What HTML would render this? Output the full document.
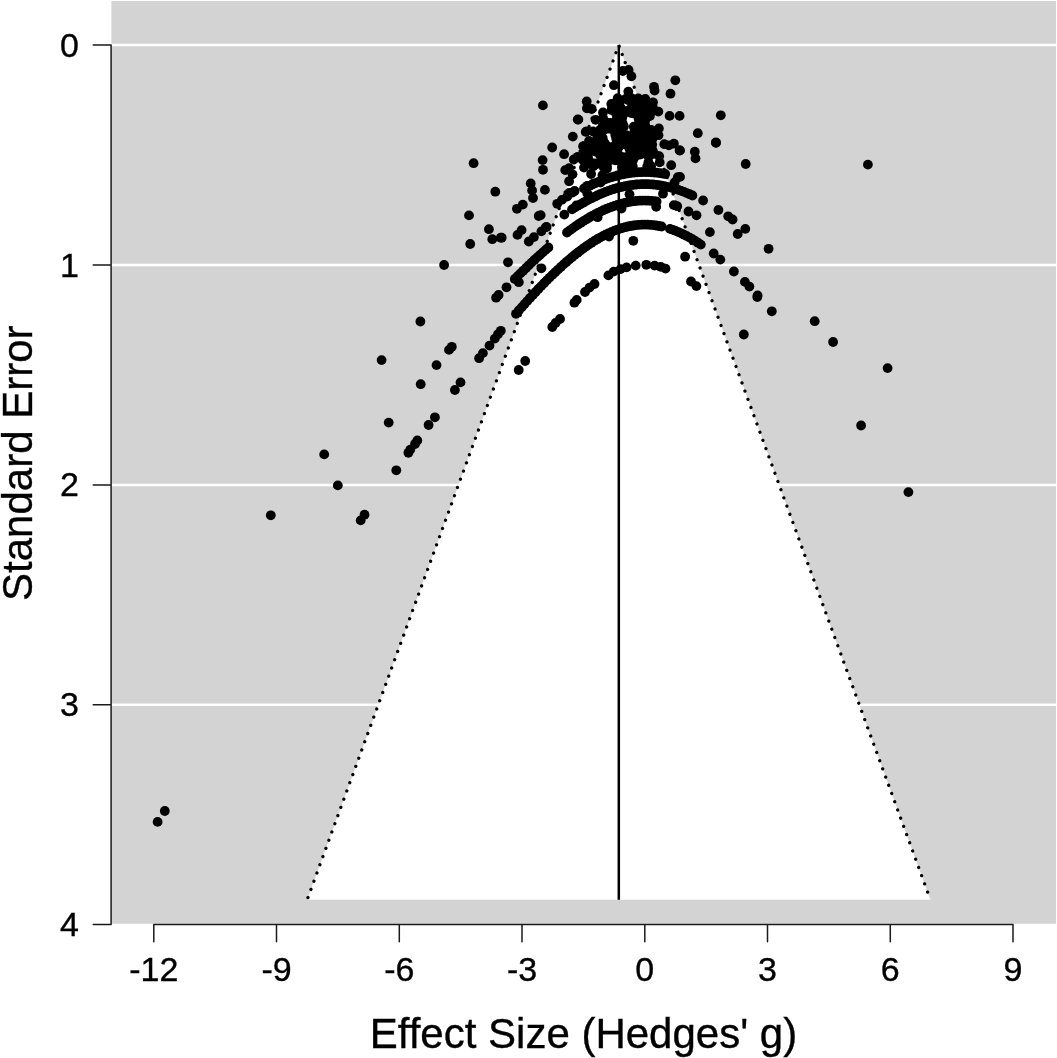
<!DOCTYPE html>
<html><head><meta charset="utf-8"><title>Funnel plot</title>
<style>
html,body{margin:0;padding:0;background:#fff;}
svg{display:block;}
text{font-family:"Liberation Sans",Arial,sans-serif;fill:#000;stroke:#000;stroke-width:0.35px;}
</style></head><body>
<svg width="1057" height="1058" viewBox="0 0 1057 1058">
<rect x="0" y="0" width="1057" height="1058" fill="#fff"/>
<rect x="111.4" y="1" width="944.6" height="922.8" fill="#d3d3d3"/>
<g stroke="#fff" stroke-width="2.5">
<line x1="111.2" x2="1056" y1="45" y2="45"/>
<line x1="111.2" x2="1056" y1="265" y2="265"/>
<line x1="111.2" x2="1056" y1="484.9" y2="484.9"/>
<line x1="111.2" x2="1056" y1="704.8" y2="704.8"/>
</g>
<polygon points="307.2,899.7 618.8,45.1 930.4,899.7" fill="#fff"/>
<g stroke="#000" stroke-width="3.3" stroke-dasharray="0.01 8.721" stroke-linecap="round" fill="none">
<line x1="618.8" y1="45.1" x2="307.2" y2="899.7" stroke-dashoffset="0.6"/>
<line x1="618.8" y1="45.1" x2="930.4" y2="899.7" stroke-dashoffset="-1.2" stroke-dasharray="0.01 8.731"/>
</g>
<line x1="618.8" x2="618.8" y1="45.1" y2="899.7" stroke="#000" stroke-width="2.5"/>
<g fill="#000"><circle cx="164.8" cy="811.0" r="4.9"/><circle cx="157.6" cy="821.9" r="4.9"/><circle cx="420.7" cy="384.2" r="4.9"/><circle cx="434.9" cy="417.3" r="4.9"/><circle cx="428.6" cy="425.0" r="4.9"/><circle cx="388.7" cy="422.6" r="4.9"/><circle cx="417.3" cy="440.5" r="4.9"/><circle cx="415.0" cy="444.0" r="4.9"/><circle cx="410.3" cy="449.6" r="4.9"/><circle cx="408.4" cy="452.8" r="4.9"/><circle cx="324.2" cy="454.4" r="4.9"/><circle cx="396.3" cy="470.3" r="4.9"/><circle cx="337.8" cy="485.4" r="4.9"/><circle cx="270.8" cy="515.3" r="4.9"/><circle cx="364.5" cy="514.7" r="4.9"/><circle cx="360.7" cy="520.4" r="4.9"/><circle cx="495.3" cy="191.7" r="4.9"/><circle cx="469.0" cy="215.4" r="4.9"/><circle cx="488.9" cy="229.2" r="4.9"/><circle cx="492.3" cy="239.2" r="4.9"/><circle cx="500.8" cy="237.7" r="4.9"/><circle cx="470.2" cy="244.0" r="4.9"/><circle cx="522.8" cy="204.6" r="4.9"/><circle cx="516.9" cy="208.8" r="4.9"/><circle cx="530.7" cy="183.4" r="4.9"/><circle cx="532.1" cy="190.4" r="4.9"/><circle cx="533.0" cy="198.0" r="4.9"/><circle cx="538.7" cy="216.0" r="4.9"/><circle cx="521.6" cy="230.1" r="4.9"/><circle cx="517.5" cy="234.9" r="4.9"/><circle cx="533.9" cy="237.1" r="4.9"/><circle cx="528.8" cy="241.5" r="4.9"/><circle cx="508.0" cy="262.3" r="4.9"/><circle cx="444.1" cy="265.0" r="4.9"/><circle cx="518.8" cy="282.2" r="4.9"/><circle cx="506.5" cy="287.3" r="4.9"/><circle cx="498.6" cy="295.0" r="4.9"/><circle cx="496.1" cy="297.7" r="4.9"/><circle cx="420.4" cy="321.5" r="4.9"/><circle cx="500.8" cy="330.8" r="4.9"/><circle cx="498.0" cy="334.2" r="4.9"/><circle cx="494.8" cy="338.6" r="4.9"/><circle cx="489.5" cy="345.6" r="4.9"/><circle cx="482.9" cy="353.1" r="4.9"/><circle cx="479.1" cy="358.2" r="4.9"/><circle cx="451.8" cy="346.8" r="4.9"/><circle cx="449.0" cy="349.9" r="4.9"/><circle cx="381.6" cy="360.1" r="4.9"/><circle cx="436.5" cy="365.1" r="4.9"/><circle cx="525.2" cy="361.0" r="4.9"/><circle cx="518.7" cy="370.0" r="4.9"/><circle cx="460.5" cy="382.4" r="4.9"/><circle cx="454.9" cy="390.0" r="4.9"/><circle cx="552.3" cy="327.0" r="4.9"/><circle cx="771.8" cy="311.3" r="4.9"/><circle cx="743.8" cy="334.5" r="4.9"/><circle cx="814.7" cy="321.2" r="4.9"/><circle cx="833.1" cy="342.0" r="4.9"/><circle cx="887.6" cy="368.1" r="4.9"/><circle cx="861.1" cy="425.5" r="4.9"/><circle cx="908.4" cy="492.1" r="4.9"/><circle cx="757.3" cy="297.0" r="4.9"/><circle cx="716.0" cy="142.8" r="4.9"/><circle cx="680.0" cy="150.4" r="4.9"/><circle cx="694.8" cy="151.7" r="4.9"/><circle cx="695.5" cy="158.4" r="4.9"/><circle cx="745.7" cy="164.0" r="4.9"/><circle cx="867.9" cy="164.6" r="4.9"/><circle cx="680.0" cy="176.9" r="4.9"/><circle cx="703.1" cy="200.5" r="4.9"/><circle cx="688.5" cy="211.5" r="4.9"/><circle cx="696.5" cy="215.3" r="4.9"/><circle cx="718.4" cy="210.0" r="4.9"/><circle cx="728.2" cy="216.3" r="4.9"/><circle cx="732.6" cy="219.5" r="4.9"/><circle cx="745.3" cy="228.9" r="4.9"/><circle cx="737.7" cy="234.0" r="4.9"/><circle cx="709.9" cy="232.1" r="4.9"/><circle cx="713.7" cy="253.5" r="4.9"/><circle cx="720.3" cy="259.6" r="4.9"/><circle cx="768.6" cy="248.8" r="4.9"/><circle cx="685.1" cy="256.7" r="4.9"/><circle cx="733.9" cy="271.5" r="4.9"/><circle cx="744.9" cy="281.9" r="4.9"/><circle cx="749.4" cy="286.6" r="4.9"/><circle cx="757.6" cy="295.5" r="4.9"/><circle cx="691.0" cy="281.5" r="4.9"/><circle cx="696.4" cy="286.1" r="4.9"/><circle cx="542.9" cy="105.4" r="4.9"/><circle cx="577.7" cy="119.5" r="4.9"/><circle cx="572.8" cy="136.6" r="4.9"/><circle cx="552.2" cy="147.5" r="4.9"/><circle cx="564.1" cy="154.2" r="4.9"/><circle cx="573.8" cy="159.5" r="4.9"/><circle cx="577.7" cy="156.8" r="4.9"/><circle cx="542.6" cy="160.1" r="4.9"/><circle cx="543.0" cy="169.8" r="4.9"/><circle cx="473.6" cy="163.2" r="4.9"/><circle cx="565.2" cy="170.1" r="4.9"/><circle cx="569.1" cy="168.1" r="4.9"/><circle cx="572.5" cy="174.3" r="4.9"/><circle cx="569.1" cy="181.3" r="4.9"/><circle cx="544.9" cy="189.9" r="4.9"/><circle cx="540.7" cy="215.1" r="4.9"/><circle cx="572.5" cy="192.6" r="4.9"/><circle cx="567.2" cy="196.6" r="4.9"/><circle cx="561.9" cy="199.9" r="4.9"/><circle cx="557.2" cy="203.8" r="4.9"/><circle cx="576.4" cy="205.5" r="4.9"/><circle cx="564.3" cy="214.6" r="4.9"/><circle cx="622.9" cy="71.0" r="4.9"/><circle cx="628.6" cy="69.9" r="4.9"/><circle cx="631.4" cy="76.3" r="4.9"/><circle cx="613.9" cy="85.2" r="4.9"/><circle cx="628.3" cy="91.6" r="4.9"/><circle cx="654.0" cy="86.8" r="4.9"/><circle cx="654.6" cy="90.5" r="4.9"/><circle cx="586.7" cy="101.5" r="4.9"/><circle cx="586.9" cy="108.3" r="4.9"/><circle cx="591.7" cy="109.0" r="4.9"/><circle cx="578.4" cy="119.6" r="4.9"/><circle cx="603.0" cy="112.4" r="4.9"/><circle cx="611.3" cy="104.0" r="4.9"/><circle cx="617.7" cy="98.2" r="4.9"/><circle cx="628.1" cy="100.0" r="4.9"/><circle cx="638.3" cy="98.4" r="4.9"/><circle cx="645.3" cy="99.0" r="4.9"/><circle cx="653.0" cy="102.3" r="4.9"/><circle cx="658.4" cy="111.6" r="4.9"/><circle cx="595.6" cy="119.8" r="4.9"/><circle cx="603.0" cy="118.0" r="4.9"/><circle cx="585.7" cy="131.9" r="4.9"/><circle cx="583.1" cy="146.3" r="4.9"/><circle cx="658.9" cy="128.4" r="4.9"/><circle cx="658.5" cy="135.2" r="4.9"/><circle cx="675.3" cy="80.3" r="4.9"/><circle cx="670.5" cy="93.7" r="4.9"/><circle cx="669.6" cy="115.9" r="4.9"/><circle cx="679.6" cy="115.9" r="4.9"/><circle cx="720.8" cy="115.3" r="4.9"/><circle cx="697.8" cy="133.2" r="4.9"/><circle cx="715.9" cy="142.5" r="4.9"/><circle cx="664.3" cy="144.2" r="4.9"/><circle cx="668.8" cy="145.4" r="4.9"/><circle cx="673.9" cy="143.7" r="4.9"/><circle cx="679.6" cy="150.5" r="4.9"/><circle cx="659.2" cy="156.2" r="4.9"/><circle cx="659.7" cy="162.4" r="4.9"/><circle cx="671.2" cy="165.2" r="4.9"/><circle cx="648.4" cy="162.4" r="4.9"/><circle cx="677.8" cy="177.2" r="4.9"/><circle cx="673.8" cy="205.1" r="4.9"/><circle cx="677.2" cy="206.2" r="4.9"/><circle cx="633.3" cy="240.8" r="4.9"/><circle cx="629.5" cy="194.3" r="4.9"/><circle cx="663.0" cy="193.7" r="4.9"/><circle cx="656.2" cy="206.8" r="4.9"/><circle cx="541.4" cy="268.3" r="4.9"/><circle cx="546.5" cy="226.9" r="4.9"/><circle cx="541.4" cy="231.4" r="4.9"/><circle cx="597.6" cy="217.2" r="4.9"/><circle cx="609.0" cy="236.5" r="4.9"/><circle cx="560.0" cy="319.0" r="4.9"/><circle cx="574.4" cy="302.7" r="4.9"/><circle cx="576.7" cy="299.9" r="4.9"/><circle cx="585.0" cy="292.0" r="4.9"/><circle cx="589.5" cy="287.6" r="4.9"/><circle cx="594.5" cy="284.0" r="4.9"/><circle cx="608.4" cy="275.4" r="4.9"/><circle cx="613.7" cy="271.6" r="4.9"/><circle cx="620.6" cy="269.1" r="4.9"/><circle cx="626.6" cy="267.4" r="4.9"/><circle cx="635.7" cy="265.6" r="4.9"/><circle cx="646.3" cy="264.8" r="4.9"/><circle cx="654.6" cy="265.6" r="4.9"/><circle cx="660.7" cy="266.8" r="4.9"/><circle cx="665.5" cy="268.6" r="4.9"/><circle cx="585.4" cy="155.5" r="4.9"/><circle cx="579.5" cy="157.6" r="4.9"/><circle cx="584.0" cy="167.6" r="4.9"/><circle cx="591.1" cy="174.0" r="4.9"/><circle cx="587.3" cy="185.8" r="4.9"/><circle cx="593.0" cy="183.9" r="4.9"/><circle cx="600.5" cy="182.5" r="4.9"/><circle cx="587.3" cy="193.4" r="4.9"/><circle cx="545.7" cy="227.4" r="4.9"/><circle cx="501.7" cy="237.7" r="4.9"/><circle cx="516.0" cy="313.8" r="4.9"/><circle cx="518.8" cy="310.5" r="4.9"/><circle cx="521.6" cy="307.4" r="4.9"/><circle cx="524.4" cy="304.2" r="4.9"/><circle cx="527.2" cy="301.1" r="4.9"/><circle cx="530.0" cy="298.0" r="4.9"/><circle cx="532.8" cy="295.0" r="4.9"/><circle cx="535.6" cy="292.0" r="4.9"/><circle cx="538.4" cy="289.0" r="4.9"/><circle cx="541.2" cy="286.1" r="4.9"/><circle cx="544.0" cy="283.2" r="4.9"/><circle cx="546.8" cy="280.4" r="4.9"/><circle cx="549.6" cy="277.6" r="4.9"/><circle cx="552.4" cy="274.9" r="4.9"/><circle cx="555.2" cy="272.2" r="4.9"/><circle cx="558.0" cy="269.6" r="4.9"/><circle cx="560.8" cy="267.0" r="4.9"/><circle cx="563.6" cy="264.4" r="4.9"/><circle cx="566.4" cy="262.0" r="4.9"/><circle cx="569.2" cy="259.6" r="4.9"/><circle cx="572.0" cy="257.2" r="4.9"/><circle cx="574.8" cy="254.9" r="4.9"/><circle cx="577.6" cy="252.7" r="4.9"/><circle cx="580.4" cy="250.6" r="4.9"/><circle cx="583.2" cy="248.5" r="4.9"/><circle cx="586.0" cy="246.5" r="4.9"/><circle cx="588.8" cy="244.6" r="4.9"/><circle cx="591.6" cy="242.7" r="4.9"/><circle cx="594.4" cy="240.9" r="4.9"/><circle cx="597.2" cy="239.2" r="4.9"/><circle cx="600.0" cy="237.6" r="4.9"/><circle cx="602.8" cy="236.1" r="4.9"/><circle cx="605.6" cy="234.7" r="4.9"/><circle cx="608.4" cy="233.3" r="4.9"/><circle cx="611.2" cy="232.1" r="4.9"/><circle cx="614.0" cy="230.9" r="4.9"/><circle cx="616.8" cy="229.8" r="4.9"/><circle cx="619.6" cy="228.9" r="4.9"/><circle cx="622.4" cy="228.0" r="4.9"/><circle cx="625.2" cy="227.2" r="4.9"/><circle cx="628.0" cy="226.5" r="4.9"/><circle cx="630.8" cy="226.0" r="4.9"/><circle cx="633.6" cy="225.5" r="4.9"/><circle cx="636.4" cy="225.1" r="4.9"/><circle cx="639.2" cy="224.9" r="4.9"/><circle cx="642.0" cy="224.7" r="4.9"/><circle cx="644.8" cy="224.6" r="4.9"/><circle cx="647.6" cy="224.7" r="4.9"/><circle cx="650.4" cy="224.9" r="4.9"/><circle cx="653.2" cy="225.1" r="4.9"/><circle cx="656.0" cy="225.5" r="4.9"/><circle cx="658.8" cy="226.0" r="4.9"/><circle cx="661.6" cy="226.5" r="4.9"/><circle cx="670.0" cy="228.9" r="4.9"/><circle cx="672.8" cy="229.8" r="4.9"/><circle cx="675.6" cy="230.9" r="4.9"/><circle cx="678.4" cy="232.1" r="4.9"/><circle cx="681.2" cy="233.3" r="4.9"/><circle cx="684.0" cy="234.7" r="4.9"/><circle cx="686.8" cy="236.1" r="4.9"/><circle cx="689.6" cy="237.6" r="4.9"/><circle cx="692.4" cy="239.2" r="4.9"/><circle cx="695.2" cy="240.9" r="4.9"/><circle cx="698.0" cy="242.7" r="4.9"/><circle cx="700.8" cy="244.6" r="4.9"/><circle cx="514.8" cy="279.0" r="4.9"/><circle cx="517.6" cy="276.2" r="4.9"/><circle cx="520.4" cy="273.4" r="4.9"/><circle cx="523.2" cy="270.7" r="4.9"/><circle cx="526.0" cy="268.0" r="4.9"/><circle cx="528.8" cy="265.3" r="4.9"/><circle cx="531.6" cy="262.6" r="4.9"/><circle cx="534.4" cy="260.0" r="4.9"/><circle cx="537.2" cy="257.4" r="4.9"/><circle cx="540.0" cy="254.9" r="4.9"/><circle cx="542.8" cy="252.4" r="4.9"/><circle cx="545.6" cy="249.9" r="4.9"/><circle cx="548.4" cy="247.5" r="4.9"/><circle cx="567.0" cy="232.5" r="4.9"/><circle cx="569.8" cy="230.4" r="4.9"/><circle cx="572.6" cy="228.4" r="4.9"/><circle cx="575.4" cy="226.4" r="4.9"/><circle cx="578.2" cy="224.5" r="4.9"/><circle cx="581.0" cy="222.7" r="4.9"/><circle cx="583.8" cy="220.9" r="4.9"/><circle cx="586.6" cy="219.2" r="4.9"/><circle cx="589.4" cy="217.5" r="4.9"/><circle cx="592.2" cy="215.9" r="4.9"/><circle cx="595.0" cy="214.4" r="4.9"/><circle cx="597.8" cy="212.9" r="4.9"/><circle cx="600.6" cy="211.6" r="4.9"/><circle cx="603.4" cy="210.2" r="4.9"/><circle cx="606.2" cy="209.0" r="4.9"/><circle cx="609.0" cy="207.9" r="4.9"/><circle cx="611.8" cy="206.8" r="4.9"/><circle cx="614.6" cy="205.8" r="4.9"/><circle cx="617.4" cy="204.9" r="4.9"/><circle cx="620.2" cy="204.1" r="4.9"/><circle cx="623.0" cy="203.3" r="4.9"/><circle cx="625.8" cy="202.7" r="4.9"/><circle cx="628.6" cy="202.1" r="4.9"/><circle cx="631.4" cy="201.6" r="4.9"/><circle cx="634.2" cy="201.2" r="4.9"/><circle cx="637.0" cy="200.9" r="4.9"/><circle cx="639.8" cy="200.7" r="4.9"/><circle cx="642.6" cy="200.6" r="4.9"/><circle cx="645.4" cy="200.6" r="4.9"/><circle cx="648.2" cy="200.7" r="4.9"/><circle cx="651.0" cy="200.8" r="4.9"/><circle cx="653.8" cy="201.1" r="4.9"/><circle cx="656.6" cy="201.4" r="4.9"/><circle cx="572.0" cy="209.4" r="4.9"/><circle cx="574.8" cy="207.6" r="4.9"/><circle cx="577.6" cy="205.9" r="4.9"/><circle cx="580.4" cy="204.3" r="4.9"/><circle cx="583.2" cy="202.7" r="4.9"/><circle cx="586.0" cy="201.1" r="4.9"/><circle cx="588.8" cy="199.6" r="4.9"/><circle cx="591.6" cy="198.2" r="4.9"/><circle cx="594.4" cy="196.8" r="4.9"/><circle cx="597.2" cy="195.5" r="4.9"/><circle cx="600.0" cy="194.2" r="4.9"/><circle cx="602.8" cy="193.1" r="4.9"/><circle cx="605.6" cy="191.9" r="4.9"/><circle cx="608.4" cy="190.9" r="4.9"/><circle cx="611.2" cy="189.9" r="4.9"/><circle cx="614.0" cy="189.0" r="4.9"/><circle cx="616.8" cy="188.2" r="4.9"/><circle cx="619.6" cy="187.4" r="4.9"/><circle cx="622.4" cy="186.8" r="4.9"/><circle cx="625.2" cy="186.2" r="4.9"/><circle cx="628.0" cy="185.6" r="4.9"/><circle cx="630.8" cy="185.2" r="4.9"/><circle cx="633.6" cy="184.8" r="4.9"/><circle cx="636.4" cy="184.5" r="4.9"/><circle cx="639.2" cy="184.3" r="4.9"/><circle cx="642.0" cy="184.2" r="4.9"/><circle cx="644.8" cy="184.2" r="4.9"/><circle cx="647.6" cy="184.2" r="4.9"/><circle cx="650.4" cy="184.3" r="4.9"/><circle cx="653.2" cy="184.5" r="4.9"/><circle cx="656.0" cy="184.8" r="4.9"/><circle cx="658.8" cy="185.2" r="4.9"/><circle cx="661.6" cy="185.6" r="4.9"/><circle cx="664.4" cy="186.2" r="4.9"/><circle cx="667.2" cy="186.8" r="4.9"/><circle cx="670.0" cy="187.4" r="4.9"/><circle cx="672.8" cy="188.2" r="4.9"/><circle cx="675.6" cy="189.0" r="4.9"/><circle cx="678.4" cy="189.9" r="4.9"/><circle cx="681.2" cy="190.9" r="4.9"/><circle cx="684.0" cy="191.9" r="4.9"/><circle cx="686.8" cy="193.1" r="4.9"/><circle cx="689.6" cy="194.2" r="4.9"/><circle cx="692.4" cy="195.5" r="4.9"/><circle cx="584.0" cy="188.5" r="4.9"/><circle cx="586.8" cy="187.1" r="4.9"/><circle cx="589.6" cy="185.8" r="4.9"/><circle cx="592.4" cy="184.5" r="4.9"/><circle cx="595.2" cy="183.2" r="4.9"/><circle cx="598.0" cy="182.1" r="4.9"/><circle cx="600.8" cy="180.9" r="4.9"/><circle cx="603.6" cy="179.9" r="4.9"/><circle cx="606.4" cy="178.9" r="4.9"/><circle cx="609.2" cy="177.9" r="4.9"/><circle cx="612.0" cy="177.1" r="4.9"/><circle cx="614.8" cy="176.3" r="4.9"/><circle cx="617.6" cy="175.5" r="4.9"/><circle cx="620.4" cy="174.9" r="4.9"/><circle cx="623.2" cy="174.3" r="4.9"/><circle cx="626.0" cy="173.7" r="4.9"/><circle cx="628.8" cy="173.3" r="4.9"/><circle cx="631.6" cy="172.9" r="4.9"/><circle cx="634.4" cy="172.6" r="4.9"/><circle cx="637.2" cy="172.3" r="4.9"/><circle cx="640.0" cy="172.2" r="4.9"/><circle cx="642.8" cy="172.1" r="4.9"/><circle cx="645.6" cy="172.1" r="4.9"/><circle cx="648.4" cy="172.1" r="4.9"/><circle cx="651.2" cy="172.3" r="4.9"/><circle cx="654.0" cy="172.5" r="4.9"/><circle cx="656.8" cy="172.7" r="4.9"/><circle cx="659.6" cy="173.1" r="4.9"/><circle cx="662.4" cy="173.5" r="4.9"/><circle cx="665.2" cy="174.0" r="4.9"/><circle cx="625.9" cy="98.8" r="4.9"/><circle cx="629.0" cy="98.4" r="4.9"/><circle cx="631.9" cy="98.4" r="4.9"/><circle cx="619.8" cy="101.3" r="4.9"/><circle cx="631.1" cy="100.5" r="4.9"/><circle cx="635.0" cy="101.7" r="4.9"/><circle cx="638.6" cy="101.7" r="4.9"/><circle cx="641.4" cy="101.1" r="4.9"/><circle cx="644.6" cy="101.5" r="4.9"/><circle cx="614.3" cy="104.0" r="4.9"/><circle cx="618.7" cy="103.8" r="4.9"/><circle cx="632.6" cy="105.1" r="4.9"/><circle cx="636.8" cy="104.7" r="4.9"/><circle cx="639.4" cy="104.1" r="4.9"/><circle cx="642.9" cy="104.8" r="4.9"/><circle cx="647.1" cy="104.8" r="4.9"/><circle cx="650.3" cy="103.9" r="4.9"/><circle cx="612.3" cy="107.0" r="4.9"/><circle cx="616.6" cy="108.1" r="4.9"/><circle cx="620.5" cy="107.4" r="4.9"/><circle cx="631.5" cy="107.9" r="4.9"/><circle cx="634.8" cy="107.4" r="4.9"/><circle cx="637.5" cy="107.9" r="4.9"/><circle cx="641.3" cy="108.0" r="4.9"/><circle cx="646.0" cy="107.3" r="4.9"/><circle cx="648.6" cy="108.2" r="4.9"/><circle cx="652.8" cy="106.9" r="4.9"/><circle cx="611.5" cy="110.1" r="4.9"/><circle cx="614.2" cy="110.3" r="4.9"/><circle cx="617.8" cy="110.7" r="4.9"/><circle cx="621.4" cy="110.5" r="4.9"/><circle cx="624.8" cy="111.2" r="4.9"/><circle cx="628.8" cy="110.5" r="4.9"/><circle cx="632.7" cy="111.2" r="4.9"/><circle cx="636.1" cy="111.3" r="4.9"/><circle cx="639.8" cy="110.6" r="4.9"/><circle cx="643.4" cy="109.8" r="4.9"/><circle cx="646.9" cy="110.1" r="4.9"/><circle cx="649.8" cy="111.1" r="4.9"/><circle cx="653.7" cy="110.5" r="4.9"/><circle cx="616.4" cy="114.4" r="4.9"/><circle cx="620.3" cy="114.3" r="4.9"/><circle cx="624.3" cy="113.3" r="4.9"/><circle cx="631.3" cy="113.1" r="4.9"/><circle cx="633.8" cy="113.6" r="4.9"/><circle cx="637.3" cy="113.3" r="4.9"/><circle cx="640.9" cy="114.0" r="4.9"/><circle cx="645.7" cy="114.3" r="4.9"/><circle cx="648.2" cy="114.1" r="4.9"/><circle cx="617.5" cy="117.6" r="4.9"/><circle cx="622.3" cy="117.6" r="4.9"/><circle cx="640.3" cy="116.4" r="4.9"/><circle cx="642.8" cy="117.5" r="4.9"/><circle cx="647.1" cy="117.1" r="4.9"/><circle cx="649.9" cy="116.1" r="4.9"/><circle cx="616.8" cy="119.6" r="4.9"/><circle cx="620.0" cy="119.4" r="4.9"/><circle cx="638.7" cy="119.3" r="4.9"/><circle cx="642.1" cy="119.8" r="4.9"/><circle cx="645.2" cy="120.5" r="4.9"/><circle cx="604.4" cy="123.3" r="4.9"/><circle cx="607.1" cy="122.6" r="4.9"/><circle cx="610.7" cy="123.0" r="4.9"/><circle cx="614.1" cy="123.0" r="4.9"/><circle cx="617.8" cy="123.8" r="4.9"/><circle cx="622.6" cy="123.1" r="4.9"/><circle cx="639.3" cy="123.1" r="4.9"/><circle cx="642.6" cy="122.7" r="4.9"/><circle cx="602.6" cy="126.4" r="4.9"/><circle cx="606.0" cy="126.7" r="4.9"/><circle cx="608.6" cy="126.2" r="4.9"/><circle cx="612.8" cy="126.7" r="4.9"/><circle cx="616.9" cy="126.7" r="4.9"/><circle cx="620.1" cy="126.8" r="4.9"/><circle cx="623.9" cy="126.5" r="4.9"/><circle cx="633.8" cy="126.7" r="4.9"/><circle cx="638.1" cy="126.4" r="4.9"/><circle cx="641.8" cy="126.5" r="4.9"/><circle cx="645.2" cy="125.4" r="4.9"/><circle cx="600.2" cy="129.6" r="4.9"/><circle cx="604.2" cy="129.5" r="4.9"/><circle cx="607.6" cy="128.6" r="4.9"/><circle cx="610.4" cy="128.9" r="4.9"/><circle cx="615.0" cy="129.0" r="4.9"/><circle cx="618.3" cy="128.5" r="4.9"/><circle cx="621.1" cy="128.9" r="4.9"/><circle cx="636.1" cy="128.7" r="4.9"/><circle cx="640.4" cy="128.8" r="4.9"/><circle cx="644.2" cy="130.0" r="4.9"/><circle cx="646.2" cy="129.2" r="4.9"/><circle cx="651.1" cy="130.0" r="4.9"/><circle cx="598.0" cy="133.0" r="4.9"/><circle cx="602.0" cy="131.7" r="4.9"/><circle cx="616.1" cy="133.0" r="4.9"/><circle cx="619.2" cy="132.8" r="4.9"/><circle cx="634.2" cy="132.2" r="4.9"/><circle cx="638.8" cy="132.6" r="4.9"/><circle cx="641.4" cy="132.3" r="4.9"/><circle cx="644.8" cy="131.7" r="4.9"/><circle cx="648.2" cy="132.9" r="4.9"/><circle cx="652.1" cy="133.1" r="4.9"/><circle cx="597.3" cy="135.6" r="4.9"/><circle cx="600.6" cy="134.8" r="4.9"/><circle cx="615.3" cy="134.9" r="4.9"/><circle cx="618.2" cy="135.3" r="4.9"/><circle cx="621.5" cy="135.9" r="4.9"/><circle cx="626.2" cy="135.1" r="4.9"/><circle cx="632.7" cy="135.4" r="4.9"/><circle cx="635.7" cy="135.0" r="4.9"/><circle cx="639.3" cy="136.2" r="4.9"/><circle cx="643.4" cy="135.1" r="4.9"/><circle cx="647.7" cy="136.3" r="4.9"/><circle cx="650.5" cy="135.0" r="4.9"/><circle cx="653.7" cy="134.9" r="4.9"/><circle cx="597.7" cy="138.3" r="4.9"/><circle cx="602.7" cy="138.0" r="4.9"/><circle cx="616.2" cy="138.6" r="4.9"/><circle cx="620.7" cy="139.2" r="4.9"/><circle cx="624.2" cy="137.9" r="4.9"/><circle cx="626.5" cy="139.0" r="4.9"/><circle cx="631.4" cy="138.6" r="4.9"/><circle cx="634.5" cy="137.8" r="4.9"/><circle cx="637.8" cy="139.3" r="4.9"/><circle cx="642.1" cy="139.2" r="4.9"/><circle cx="646.0" cy="138.2" r="4.9"/><circle cx="648.2" cy="138.1" r="4.9"/><circle cx="652.4" cy="138.9" r="4.9"/><circle cx="592.6" cy="142.4" r="4.9"/><circle cx="596.8" cy="141.5" r="4.9"/><circle cx="599.6" cy="141.4" r="4.9"/><circle cx="604.0" cy="142.1" r="4.9"/><circle cx="618.4" cy="141.0" r="4.9"/><circle cx="621.5" cy="141.7" r="4.9"/><circle cx="626.1" cy="142.0" r="4.9"/><circle cx="629.6" cy="141.7" r="4.9"/><circle cx="632.2" cy="141.4" r="4.9"/><circle cx="636.9" cy="142.1" r="4.9"/><circle cx="639.5" cy="141.0" r="4.9"/><circle cx="643.4" cy="142.0" r="4.9"/><circle cx="646.9" cy="141.4" r="4.9"/><circle cx="650.9" cy="142.4" r="4.9"/><circle cx="592.0" cy="144.6" r="4.9"/><circle cx="595.3" cy="144.5" r="4.9"/><circle cx="598.0" cy="145.3" r="4.9"/><circle cx="601.7" cy="145.6" r="4.9"/><circle cx="605.6" cy="144.4" r="4.9"/><circle cx="615.8" cy="144.7" r="4.9"/><circle cx="619.5" cy="145.6" r="4.9"/><circle cx="623.0" cy="144.2" r="4.9"/><circle cx="626.5" cy="144.7" r="4.9"/><circle cx="631.4" cy="145.5" r="4.9"/><circle cx="634.8" cy="145.7" r="4.9"/><circle cx="638.7" cy="144.6" r="4.9"/><circle cx="641.1" cy="145.6" r="4.9"/><circle cx="645.6" cy="144.1" r="4.9"/><circle cx="649.1" cy="144.7" r="4.9"/><circle cx="652.2" cy="144.6" r="4.9"/><circle cx="590.1" cy="147.5" r="4.9"/><circle cx="592.8" cy="148.5" r="4.9"/><circle cx="597.1" cy="147.9" r="4.9"/><circle cx="599.5" cy="148.0" r="4.9"/><circle cx="603.6" cy="148.7" r="4.9"/><circle cx="606.9" cy="147.8" r="4.9"/><circle cx="611.6" cy="147.2" r="4.9"/><circle cx="614.5" cy="148.5" r="4.9"/><circle cx="618.6" cy="147.3" r="4.9"/><circle cx="629.4" cy="148.6" r="4.9"/><circle cx="632.3" cy="147.6" r="4.9"/><circle cx="636.9" cy="148.2" r="4.9"/><circle cx="639.4" cy="148.3" r="4.9"/><circle cx="643.1" cy="147.6" r="4.9"/><circle cx="646.2" cy="148.4" r="4.9"/><circle cx="651.3" cy="148.2" r="4.9"/><circle cx="591.9" cy="150.6" r="4.9"/><circle cx="595.3" cy="151.5" r="4.9"/><circle cx="598.9" cy="151.6" r="4.9"/><circle cx="602.2" cy="150.8" r="4.9"/><circle cx="605.3" cy="150.9" r="4.9"/><circle cx="609.7" cy="150.4" r="4.9"/><circle cx="612.3" cy="151.5" r="4.9"/><circle cx="616.0" cy="150.4" r="4.9"/><circle cx="630.4" cy="150.5" r="4.9"/><circle cx="633.8" cy="151.1" r="4.9"/><circle cx="638.3" cy="151.0" r="4.9"/><circle cx="641.2" cy="151.0" r="4.9"/><circle cx="645.4" cy="151.4" r="4.9"/><circle cx="649.2" cy="151.7" r="4.9"/><circle cx="652.7" cy="150.5" r="4.9"/><circle cx="600.0" cy="155.0" r="4.9"/><circle cx="603.8" cy="153.8" r="4.9"/><circle cx="607.9" cy="154.5" r="4.9"/><circle cx="611.8" cy="153.6" r="4.9"/><circle cx="614.6" cy="154.7" r="4.9"/><circle cx="618.7" cy="154.9" r="4.9"/><circle cx="629.8" cy="154.4" r="4.9"/><circle cx="633.3" cy="154.0" r="4.9"/><circle cx="636.8" cy="154.2" r="4.9"/><circle cx="639.4" cy="154.7" r="4.9"/><circle cx="644.1" cy="153.6" r="4.9"/><circle cx="647.2" cy="154.4" r="4.9"/><circle cx="650.1" cy="154.0" r="4.9"/><circle cx="653.6" cy="153.8" r="4.9"/><circle cx="587.9" cy="156.8" r="4.9"/><circle cx="601.8" cy="157.4" r="4.9"/><circle cx="605.8" cy="156.7" r="4.9"/><circle cx="608.7" cy="157.7" r="4.9"/><circle cx="612.7" cy="157.0" r="4.9"/><circle cx="616.1" cy="158.1" r="4.9"/><circle cx="619.7" cy="157.5" r="4.9"/><circle cx="623.4" cy="157.2" r="4.9"/><circle cx="627.8" cy="158.1" r="4.9"/><circle cx="630.6" cy="156.9" r="4.9"/><circle cx="634.8" cy="156.9" r="4.9"/><circle cx="648.7" cy="156.8" r="4.9"/><circle cx="588.8" cy="160.1" r="4.9"/><circle cx="600.7" cy="161.2" r="4.9"/><circle cx="603.3" cy="159.9" r="4.9"/><circle cx="608.1" cy="161.2" r="4.9"/><circle cx="611.0" cy="159.8" r="4.9"/><circle cx="615.3" cy="160.3" r="4.9"/><circle cx="618.8" cy="160.7" r="4.9"/><circle cx="622.3" cy="159.9" r="4.9"/><circle cx="625.9" cy="160.0" r="4.9"/><circle cx="628.8" cy="161.0" r="4.9"/><circle cx="633.1" cy="160.0" r="4.9"/><circle cx="591.1" cy="163.8" r="4.9"/><circle cx="594.7" cy="163.5" r="4.9"/><circle cx="597.6" cy="163.8" r="4.9"/><circle cx="602.0" cy="163.2" r="4.9"/><circle cx="606.0" cy="164.0" r="4.9"/><circle cx="623.6" cy="162.9" r="4.9"/><circle cx="627.4" cy="162.9" r="4.9"/><circle cx="631.2" cy="164.0" r="4.9"/><circle cx="649.2" cy="164.1" r="4.9"/><circle cx="593.4" cy="166.2" r="4.9"/><circle cx="603.8" cy="167.4" r="4.9"/><circle cx="606.9" cy="166.3" r="4.9"/><circle cx="622.1" cy="167.3" r="4.9"/><circle cx="624.9" cy="167.2" r="4.9"/><circle cx="628.4" cy="166.8" r="4.9"/><circle cx="632.8" cy="166.5" r="4.9"/><circle cx="647.2" cy="166.5" r="4.9"/><circle cx="651.1" cy="166.3" r="4.9"/><circle cx="555.6" cy="323.0" r="4.9"/><circle cx="586.6" cy="131.4" r="4.9"/><circle cx="593.0" cy="131.5" r="4.9"/><circle cx="589.0" cy="141.0" r="4.9"/><circle cx="584.0" cy="146.5" r="4.9"/><circle cx="585.0" cy="152.0" r="4.9"/><circle cx="583.0" cy="160.0" r="4.9"/><circle cx="621.5" cy="208.5" r="4.9"/><circle cx="674.6" cy="182.4" r="4.9"/><circle cx="607.0" cy="168.5" r="4.9"/><circle cx="602.4" cy="175.1" r="4.9"/><circle cx="569.3" cy="193.0" r="4.9"/><circle cx="574.6" cy="191.0" r="4.9"/></g>
<g stroke="#1a1a1a" stroke-width="1.5" fill="none" stroke-linecap="round" stroke-linejoin="round">
<path d="M93.2 45.1H111.1V924.6H93.2M93.2 265H111.1M93.2 484.9H111.1M93.2 704.8H111.1"/>
<path d="M153.8 941.8V924.6H1013V941.8M276.5 924.6V941.8M399.3 924.6V941.8M522 924.6V941.8M644.8 924.6V941.8M767.5 924.6V941.8M890.3 924.6V941.8"/>
</g>
<g font-size="34" text-anchor="end">
<text x="79" y="56.6">0</text>
<text x="79" y="276.5">1</text>
<text x="79" y="496.4">2</text>
<text x="79" y="716.3">3</text>
<text x="79" y="936.1">4</text>
</g>
<g font-size="34" text-anchor="middle">
<text x="153.8" y="981">-12</text>
<text x="276.5" y="981">-9</text>
<text x="399.3" y="981">-6</text>
<text x="522" y="981">-3</text>
<text x="644.8" y="981">0</text>
<text x="767.5" y="981">3</text>
<text x="890.3" y="981">6</text>
<text x="1013" y="981">9</text>
</g>
<text x="583.5" y="1047.5" font-size="42" text-anchor="middle">Effect Size (Hedges' g)</text>
<text transform="translate(31.8 463.2) rotate(-90)" font-size="42" text-anchor="middle">Standard Error</text>
</svg>
</body></html>
